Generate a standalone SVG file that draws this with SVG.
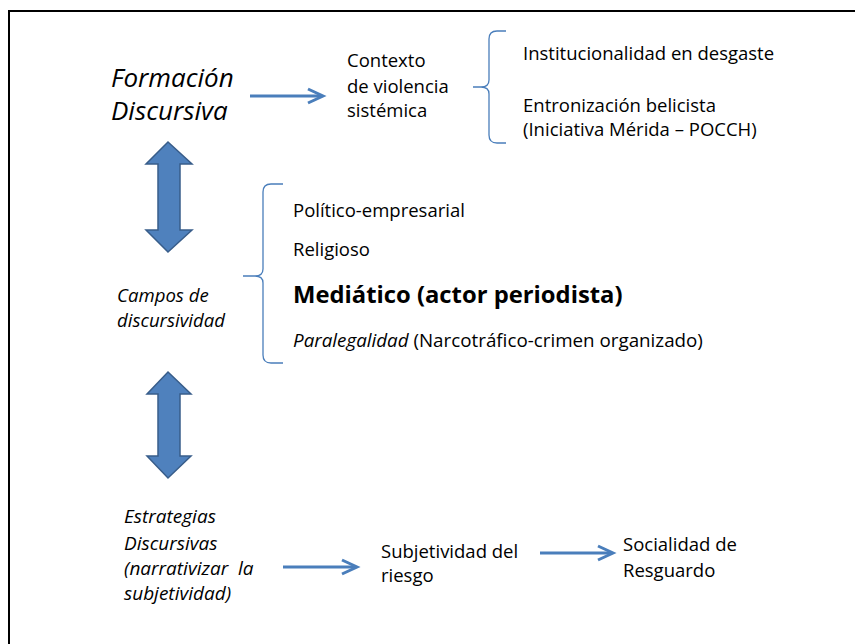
<svg xmlns="http://www.w3.org/2000/svg" width="855" height="644" viewBox="0 0 855 644">
<defs>
<style>
text { font-family: "Open Sans", "Liberation Sans", sans-serif; fill: #000; }
.t { font-size: 18.5px; }
.i { font-style: italic; font-size: 19px; }
.big { font-size: 26px; font-style: italic; }
.bold { font-size: 23.8px; font-weight: bold; }
.line { stroke: #4A7EBB; stroke-width: 3; fill: none; }
.brace { stroke: #4A7EBB; stroke-width: 1.3; fill: none; }
.dbl { fill: #4F81BD; stroke: #385D8A; stroke-width: 1.5; }
</style>
</defs>
<rect x="0" y="0" width="855" height="644" fill="#fff"/>
<path d="M9,644 V11 H855" fill="none" stroke="#000" stroke-width="2"/>

<g id="connectors">
<line class="line" x1="250" y1="96" x2="322" y2="96"/>
<path class="line" d="M308,89 L323,96 L308,103"/>
<line class="line" x1="283" y1="567" x2="356" y2="567"/>
<path class="line" d="M342,560 L357,567 L342,574"/>
<line class="line" x1="540" y1="553" x2="612" y2="553"/>
<path class="line" d="M598,546 L613,553 L598,560"/>
<path class="dbl" d="M168,142 L192,164 L180,164 L180,230 L192,230 L168,252 L146,230 L158,230 L158,164 L146,164 Z"/>
<path class="dbl" d="M168,372 L191,394 L180,394 L180,456 L191,456 L168,478 L147,456 L158,456 L158,394 L147,394 Z"/>
<path class="brace" d="M506,31 H497 Q489,31 489,39 V80 Q489,87 481,87 H473 H481 Q489,87 489,94 V135 Q489,143 497,143 H506"/>
<path class="brace" d="M283,184 H271 Q263,184 263,192 V269 Q263,276 255,276 H243 H255 Q263,276 263,283 V355 Q263,363 271,363 H283"/>
</g>

<g id="formacion">
<text class="big" x="111" y="87">Formación</text>
<text class="big" x="111" y="120">Discursiva</text>
</g>
<g id="contexto">
<text class="t" x="347" y="67">Contexto</text>
<text class="t" x="347" y="93">de violencia</text>
<text class="t" x="347" y="117">sistémica</text>
</g>
<g id="institucionalidad">
<text class="t" x="523" y="60">Institucionalidad en desgaste</text>
</g>
<g id="entronizacion">
<text class="t" x="523" y="112">Entronización belicista</text>
<text class="t" x="523" y="136">(Iniciativa Mérida – POCCH)</text>
</g>
<g id="campos">
<text class="i" x="117" y="302" style="font-size:18.6px">Campos de</text>
<text class="i" x="117" y="327" style="font-size:18.6px">discursividad</text>
</g>
<g id="politico"><text class="t" x="293" y="217">Político-empresarial</text></g>
<g id="religioso"><text class="t" x="293" y="256">Religioso</text></g>
<g id="mediatico"><text class="bold" x="293" y="303">Mediático (actor periodista)</text></g>
<g id="paralegalidad"><text class="t" x="293" y="347" style="font-size:18.8px"><tspan class="i" style="font-size:18.8px">Paralegalidad</tspan> (Narcotráfico-crimen organizado)</text></g>
<g id="estrategias">
<text class="i" x="124" y="523">Estrategias</text>
<text class="i" x="124" y="550">Discursivas</text>
<text class="i" x="124" y="575" xml:space="preserve">(narrativizar  la</text>
<text class="i" x="124" y="600">subjetividad)</text>
</g>
<g id="subjetividad">
<text class="t" x="381" y="558">Subjetividad del</text>
<text class="t" x="381" y="582">riesgo</text>
</g>
<g id="socialidad">
<text class="t" x="623" y="551">Socialidad de</text>
<text class="t" x="623" y="577">Resguardo</text>
</g>
</svg>
